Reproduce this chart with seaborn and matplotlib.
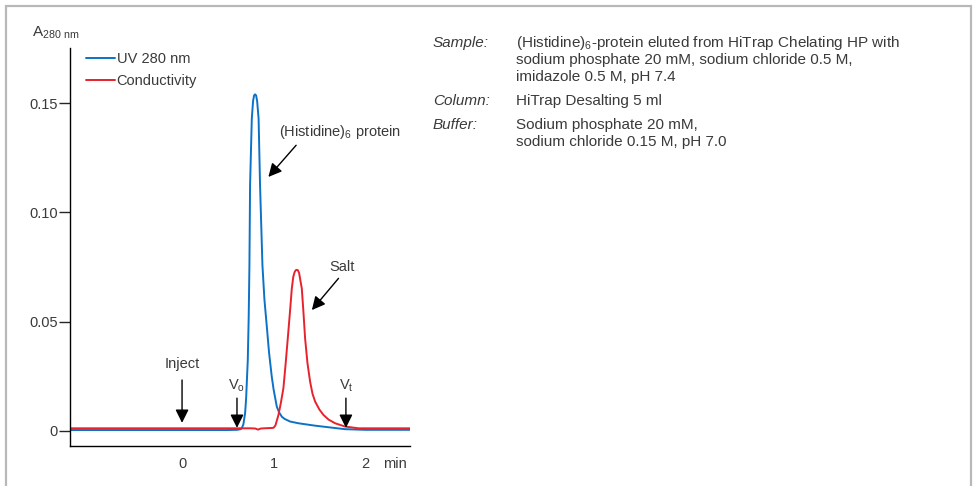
import numpy as np
import pandas as pd
import seaborn as sns
import matplotlib.pyplot as plt
from matplotlib.patches import Rectangle

## Chromatogram values
uv_time = [-1.22, 0.0, 0.50, 0.60, 0.64, 0.652, 0.67, 0.689, 0.70, 0.718, 0.728, 0.736, 0.743,
           0.762, 0.776, 0.787, 0.798, 0.809, 0.820, 0.836, 0.852, 0.878, 0.90, 0.926, 0.95,
           0.980, 1.0, 1.035, 1.06, 1.090, 1.12, 1.180, 1.271, 1.454, 1.636, 1.78, 2.0, 2.49]
uv_abs = [0.0004, 0.0004, 0.0004, 0.0005, 0.0008, 0.0012, 0.003, 0.0082, 0.015, 0.0324, 0.052,
          0.0759, 0.1124, 0.143, 0.151, 0.1535, 0.154, 0.1535, 0.151, 0.143, 0.1124, 0.0759,
          0.060, 0.0477, 0.036, 0.0248, 0.019, 0.0111, 0.0085, 0.0065, 0.0055, 0.0043, 0.0035,
          0.0024, 0.0015, 0.0008, 0.0005, 0.0005]

cond_time = [-1.22, 0.50, 0.75, 0.80, 0.83, 0.86, 0.90, 0.998, 1.02, 1.053, 1.08, 1.107, 1.13,
             1.155, 1.18, 1.199, 1.215, 1.228, 1.241, 1.253, 1.266, 1.279, 1.292, 1.308, 1.325,
             1.344, 1.37, 1.399, 1.425, 1.454, 1.50, 1.545, 1.60, 1.672, 1.781, 1.927, 2.2, 2.49]
cond_val = [0.0012, 0.0012, 0.0012, 0.0011, 0.0006, 0.0011, 0.0012, 0.0014, 0.0025, 0.0073,
            0.013, 0.0195, 0.030, 0.0424, 0.055, 0.0652, 0.0705, 0.0725, 0.0735, 0.0737, 0.0735,
            0.0722, 0.069, 0.0652, 0.055, 0.0424, 0.031, 0.0225, 0.017, 0.0134, 0.0098, 0.0073,
            0.0052, 0.0035, 0.002, 0.0012, 0.0012, 0.0012]

x_ticks = [0, 1, 2, 2.33]
x_labels = ['0', '1', '2', 'min']
y_ticks = [0, 0.05, 0.10, 0.15]
y_labels = ['0', '0.05', '0.10', '0.15']

info_keys = ['Sample:', 'Column:', 'Buffer:']
info_vals = [['(Histidine)$_6$-protein eluted from HiTrap Chelating HP with',
              'sodium phosphate 20 mM, sodium chloride 0.5 M,',
              'imidazole 0.5 M, pH 7.4'],
             ['HiTrap Desalting 5 ml'],
             ['Sodium phosphate 20 mM,',
              'sodium chloride 0.15 M, pH 7.0']]

sns.set_style('white')
plt.rcParams['font.family'] = ['Liberation Sans', 'DejaVu Sans']
plt.rcParams['mathtext.default'] = 'regular'
txt_col = '#3a3a3a'
blue = '#0c72c6'
red = '#e8222c'

W, H = 974, 486
fig = plt.figure(figsize=(W/100, H/100), dpi=100)
ax = fig.add_axes([70/W, 1-446/H, 340/W, 398/H])

uv_df = pd.DataFrame({'time': uv_time, 'value': uv_abs})
cond_df = pd.DataFrame({'time': cond_time, 'value': cond_val})
sns.lineplot(data=uv_df, x='time', y='value', color=blue, lw=1.4, ax=ax, label='UV 280 nm')
sns.lineplot(data=cond_df, x='time', y='value', color=red, lw=1.4, ax=ax, label='Conductivity')

ax.set_xlim(-1.224, 2.49)
ax.set_ylim(-0.0069, 0.1752)
ax.set_xlabel('')
ax.set_ylabel('')
ax.set_xticks(x_ticks)
ax.set_xticklabels(x_labels)
ax.set_yticks(y_ticks)
ax.set_yticklabels(y_labels)
ax.tick_params(axis='x', length=0, pad=8, labelsize=10.5, labelcolor=txt_col)
ax.tick_params(axis='y', left=True, length=8, width=1, pad=1, labelsize=10.5, labelcolor=txt_col)
for s in ['top', 'right']:
    ax.spines[s].set_visible(False)
for s in ['left', 'bottom']:
    ax.spines[s].set_color('black')
    ax.spines[s].set_linewidth(1)

leg = ax.legend(loc='upper left', bbox_to_anchor=(16/340, 1 - 4/398), frameon=False,
                borderpad=0, borderaxespad=0, handlelength=2.0, handletextpad=0.1,
                labelspacing=0.55, fontsize=10.5)
for t in leg.get_texts():
    t.set_color(txt_col)

fig.text(32/W, 1-33/H, r'A$_{280\ nm}$', ha='left', va='center', fontsize=11, color=txt_col)

arrow = dict(arrowstyle='-|>,head_length=0.8,head_width=0.4', color='black', lw=1,
             shrinkA=0, shrinkB=0)
ax.annotate('', xy=(0.0, 0.0037), xytext=(0.0, 0.0233), arrowprops=arrow)
ax.text(0.0, 0.0306, 'Inject', ha='center', va='center', fontsize=10.5, color=txt_col)
ax.annotate('', xy=(0.60, 0.0014), xytext=(0.60, 0.0150), arrowprops=arrow)
ax.text(0.59, 0.0206, 'V$_o$', ha='center', va='center', fontsize=10.5, color=txt_col)
ax.annotate('', xy=(1.79, 0.0014), xytext=(1.79, 0.0150), arrowprops=arrow)
ax.text(1.79, 0.0206, 'V$_t$', ha='center', va='center', fontsize=10.5, color=txt_col)
ax.annotate('', xy=(0.943, 0.1162), xytext=(1.246, 0.1307), arrowprops=arrow)
ax.text(1.73, 0.1366, '(Histidine)$_6$ protein', ha='center', va='center', fontsize=10.5,
        color=txt_col)
ax.annotate('', xy=(1.418, 0.0553), xytext=(1.709, 0.0698), arrowprops=arrow)
ax.text(1.75, 0.0752, 'Salt', ha='center', va='center', fontsize=10.5, color=txt_col)

## info block on the right
y = 43
for key, vals in zip(info_keys, info_vals):
    fig.text(433/W, 1-y/H, key, style='italic', ha='left', va='center', fontsize=11,
             color=txt_col)
    for v in vals:
        fig.text(516/W, 1-y/H, v, ha='left', va='center', fontsize=11, color=txt_col)
        y += 17
    y += 7

fig.patches.append(Rectangle((6/W, -0.1), 965/W, 1.1 - 6/H, transform=fig.transFigure,
                             fill=False, edgecolor='#b8b8b8', lw=1.6))

plt.savefig('out.png', dpi=100)
